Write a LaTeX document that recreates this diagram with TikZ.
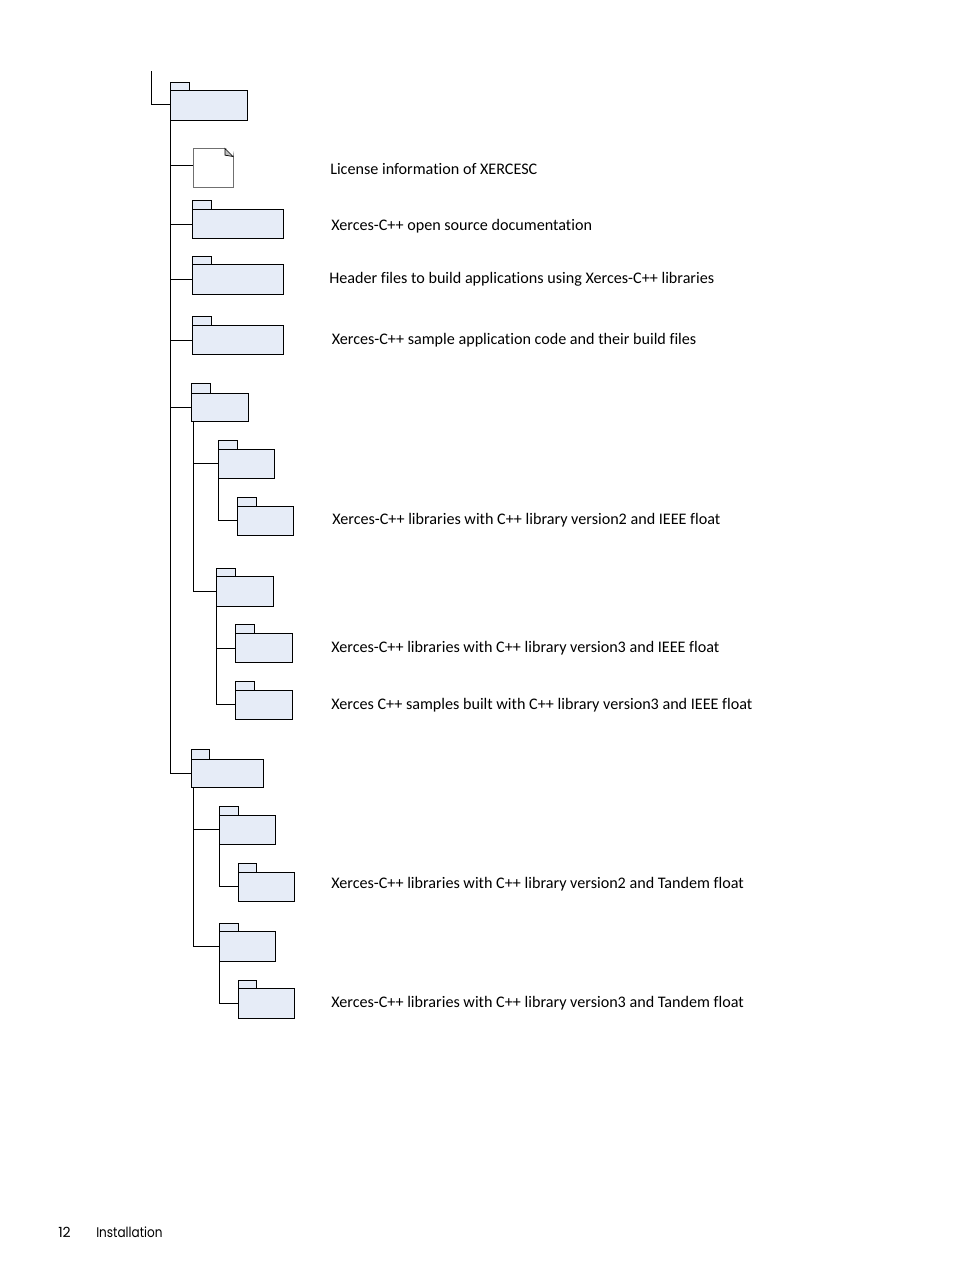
\documentclass[tikz,border=0pt]{standalone}
\usepackage{fontspec}
\setmainfont[RawFeature=-liga]{Carlito}
\newfontfamily\footfont{Poppins}
\usepackage{graphicx}
\usepackage{tikz}
\usetikzlibrary{arrows}
\definecolor{folderblue}{HTML}{E6ECF7}
\definecolor{filegray}{HTML}{707070}
\tikzstyle{folder} = [draw,fill=folderblue,inner sep=0pt,outer sep=0pt,line width=0.75pt,minimum height=21.75pt]
\tikzstyle{foldertab} = [draw,fill=folderblue,inner sep=0pt,outer sep=0pt,line width=0.75pt,minimum width=14.25pt,minimum height=6.75pt,anchor=south west]
\tikzstyle{note} = [anchor=base west,inner sep=0pt,font=\fontsize{12.1}{14}\selectfont]
\tikzstyle{foot} = [anchor=base west,inner sep=0pt,font=\footfont\fontsize{10.5}{12}\selectfont]
\tikzstyle{branch} = [line width=0.75pt]

\begin{document}
\begin{tikzpicture}[x=0.75pt,y=-0.75pt]
        \useasboundingbox (0,0) rectangle (954,1271);
        % \draw[step=100,gray,very thin] (0,0) grid (954,1271);
        % top of the tree
        \node[folder,minimum width=57.75pt,minimum height=22.5pt] (root) at (209,105.5) {};
        \node[foldertab,minimum height=6pt] (roottab) at (root.north west) {};
        \node[draw=filegray,line width=0.75pt,inner sep=0pt,outer sep=0pt,minimum width=30pt,minimum height=29.25pt] (license) at (213,168) {};
        \fill[white] ([xshift=-6pt]license.north east) -- ([xshift=1pt,yshift=1pt]license.north east) -- ([yshift=-6pt]license.north east) -- cycle;
        \filldraw[fill=lightgray,line width=0.5pt] ([xshift=-6pt]license.north east) -- ([yshift=-6pt]license.north east) -- ([xshift=-6pt,yshift=-5pt]license.north east) -- cycle;
        \node[folder,minimum width=68.25pt] (doc) at (238,224) {};
        \node[foldertab] (doctab) at (doc.north west) {};
        \node[folder,minimum width=68.25pt,minimum height=22.5pt] (include) at (238,279.5) {};
        \node[foldertab,minimum height=6pt] (includetab) at (include.north west) {};
        \node[folder,minimum width=68.25pt] (samples) at (238,340) {};
        \node[foldertab] (samplestab) at (samples.north west) {};
        % first library tree
        \node[folder,minimum width=42.75pt,minimum height=21pt] (lib) at (220,407.5) {};
        \node[foldertab,minimum height=7.5pt] (libtab) at (lib.north west) {};
        \node[folder,minimum width=42pt] (libone) at (246.5,464) {};
        \node[foldertab] (libonetab) at (libone.north west) {};
        \node[folder,minimum width=42pt] (libonev) at (265.5,521) {};
        \node[foldertab] (libonevtab) at (libonev.north west) {};
        \node[folder,minimum width=42.75pt,minimum height=22.5pt] (libtwo) at (245,591.5) {};
        \node[foldertab,minimum height=6pt] (libtwotab) at (libtwo.north west) {};
        \node[folder,minimum width=42.75pt] (libtwov) at (264,648) {};
        \node[foldertab] (libtwovtab) at (libtwov.north west) {};
        \node[folder,minimum width=42.75pt] (libtwos) at (264,705) {};
        \node[foldertab] (libtwostab) at (libtwos.north west) {};
        % second library tree
        \node[folder,minimum width=54pt,minimum height=21pt] (tlib) at (227.5,773.5) {};
        \node[foldertab,minimum width=13.5pt,minimum height=7.5pt] (tlibtab) at (tlib.north west) {};
        \node[folder,minimum width=42pt] (tlibone) at (247.5,830) {};
        \node[foldertab] (tlibonetab) at (tlibone.north west) {};
        \node[folder,minimum width=42pt] (tlibonev) at (266.5,887) {};
        \node[foldertab,minimum width=13.5pt] (tlibonevtab) at (tlibonev.north west) {};
        \node[folder,minimum width=42pt,minimum height=22.5pt] (tlibtwo) at (247.5,946.5) {};
        \node[foldertab,minimum height=6pt] (tlibtwotab) at (tlibtwo.north west) {};
        \node[folder,minimum width=42pt,minimum height=22.5pt] (tlibtwov) at (266.5,1003.5) {};
        \node[foldertab,minimum width=13.5pt,minimum height=6pt] (tlibtwovtab) at (tlibtwov.north west) {};
        % trunks that do not start at a corner
        \coordinate (rootstub) at (151.5,71);
        \coordinate (libfoot) at (193.5,421.5);
        \coordinate (tlibfoot) at (193.5,787.5);
        \draw[branch] (rootstub) |- ([yshift=0.75pt]root.west);
        \draw[branch] (root.south west) |- ([yshift=1.875pt]license.west);
        \draw[branch] (root.south west) |- ([yshift=-0.375pt]doc.west);
        \draw[branch] (root.south west) |- (include.west);
        \draw[branch] (root.south west) |- ([yshift=-0.375pt]samples.west);
        \draw[branch] (root.south west) |- (lib.west);
        \draw[branch] (root.south west) |- (tlib.west);
        \draw[branch] (libfoot) |- ([yshift=0.375pt]libone.west);
        \draw[branch] (libfoot) |- (libtwo.west);
        \draw[branch] (libone.south west) |- ([yshift=0.375pt]libonev.west);
        \draw[branch] (libtwo.south west) |- ([yshift=-0.375pt]libtwov.west);
        \draw[branch] (libtwo.south west) |- ([yshift=0.375pt]libtwos.west);
        \draw[branch] (tlibfoot) |- ([yshift=0.375pt]tlibone.west);
        \draw[branch] (tlibfoot) |- (tlibtwo.west);
        \draw[branch] (tlibone.south west) |- ([yshift=0.375pt]tlibonev.west);
        \draw[branch] (tlibtwo.south west) |- (tlibtwov.west);
        % descriptions
        \node[note] (licensetext) at (330,174) {License information of XERCESC};
        \node[note] (doctext) at (331,230) {Xerces-C++ open source documentation};
        \node[note] (includetext) at (329,283) {Header files to build applications using Xerces-C++ libraries};
        \node[note] (samplestext) at (331.5,344) {Xerces-C++ sample application code and their build files};
        \node[note] (libonetext) at (332,524) {Xerces-C++ libraries with C++ library version2 and IEEE float};
        \node[note] (libtwotext) at (331,652) {Xerces-C++ libraries with C++ library version3 and IEEE float};
        \node[note] (libtwostext) at (331,709) {Xerces C++ samples built with C++ library version3 and IEEE float};
        \node[note] (tlibonetext) at (331,888) {Xerces-C++ libraries with C++ library version2 and Tandem float};
        \node[note] (tlibtwotext) at (331,1007) {Xerces-C++ libraries with C++ library version3 and Tandem float};
        % page foot
        \node[foot] (pagenum) at (58,1237.5) {12};
        \node[foot] (pagetitle) at (96,1237.5) {\scalebox{0.86}[1]{Installation}};
    \end{tikzpicture}
\end{document}
